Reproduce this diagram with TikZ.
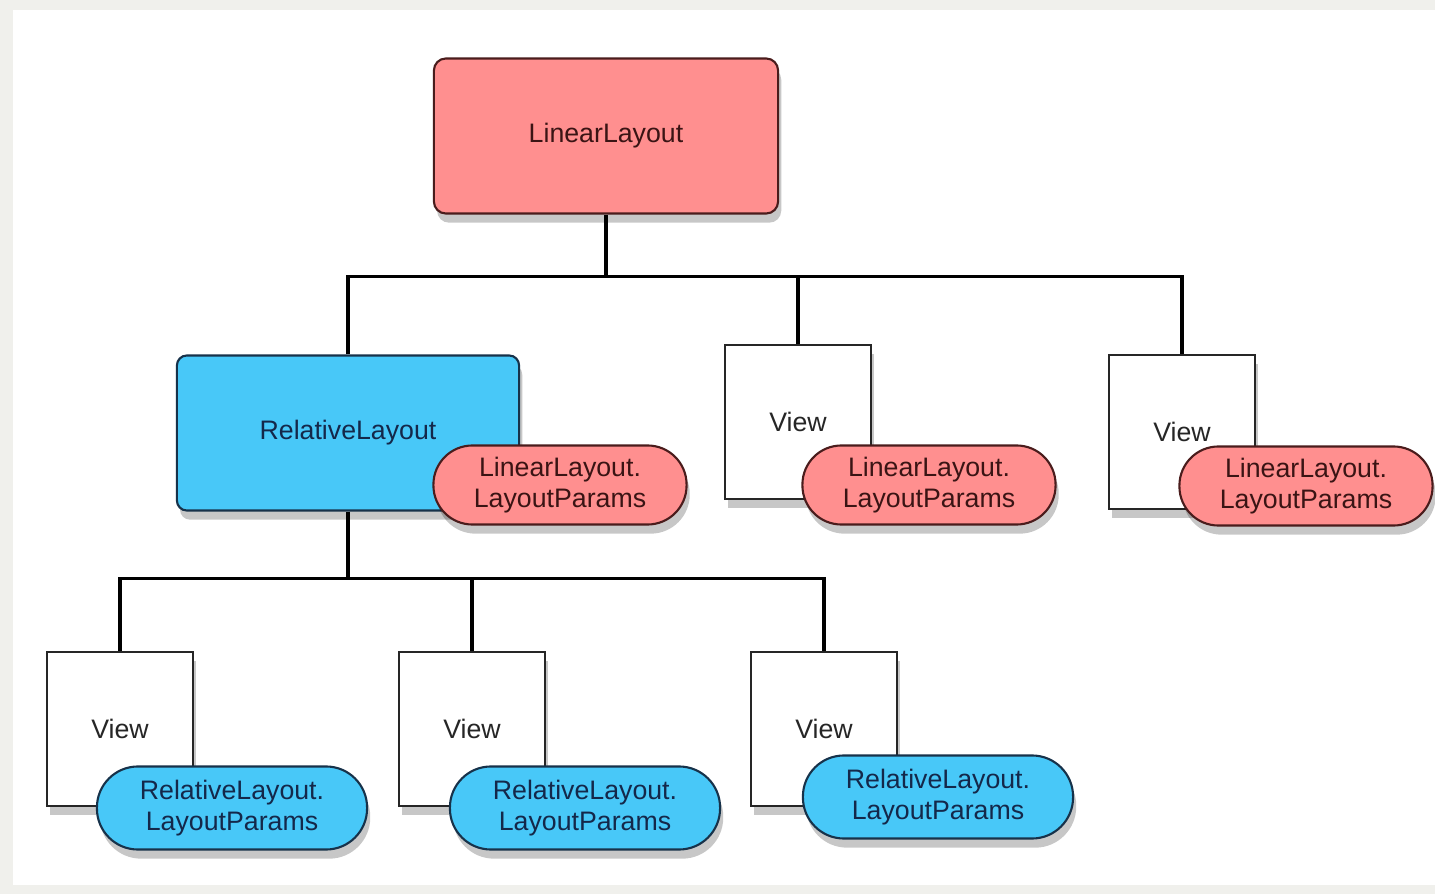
\documentclass[tikz,border=0pt]{standalone}
\usepackage{fontspec}
\setmainfont{Liberation Sans}
\usetikzlibrary{shadows}

\definecolor{pinkfill}{HTML}{FF8F8F}
\definecolor{pinkline}{HTML}{4A1C1C}
\definecolor{pinktext}{HTML}{3A1414}
\definecolor{bluefill}{HTML}{48C8F8}
\definecolor{blueline}{HTML}{17324A}
\definecolor{bluetext}{HTML}{14284A}
\definecolor{margin}{HTML}{F0F0EC}

\tikzset{
  boxshadow/.style={drop shadow={shadow xshift=0.9pt, shadow yshift=-2.6pt, opacity=0.22, fill=black}},
  pinkbox/.style={draw=pinkline, line width=0.6pt, fill=pinkfill, text=pinktext, rounded corners=0.12cm,
    minimum width=3.44cm, minimum height=1.55cm, boxshadow},
  bluebox/.style={draw=blueline, line width=0.6pt, fill=bluefill, text=bluetext, rounded corners=0.1cm,
    minimum width=3.42cm, minimum height=1.55cm, boxshadow},
  viewbox/.style={draw=black!85, line width=0.6pt, fill=white, text=black!85,
    minimum width=1.46cm, minimum height=1.54cm, boxshadow},
  pinkpill/.style={draw=pinkline, line width=0.6pt, fill=pinkfill, text=pinktext, rounded corners=0.39cm,
    minimum width=2.53cm, minimum height=0.79cm, boxshadow},
  bluepill/.style={draw=blueline, line width=0.6pt, fill=bluefill, text=bluetext, rounded corners=0.41cm,
    minimum width=2.70cm, minimum height=0.83cm, boxshadow},
  wire/.style={line width=0.9pt, black}
}

\begin{document}
\begin{tikzpicture}[x=0.01cm, y=-0.01cm, every node/.style={font=\fontsize{7.6}{8.6}\selectfont, align=center, inner sep=0pt}]

\useasboundingbox (0, 0) rectangle (1435, 894);
\fill[margin] (0, 0) rectangle (1435, 894);
\fill[white] (13, 10) rectangle (1435, 885);

% top level
\node[pinkbox] (ll) at (606, 136) {LinearLayout}; % root

% second level
\node[bluebox] (rl) at (348, 433) {RelativeLayout}; % child 1
\node[viewbox] (vm) at (798, 422) {View}; % child 2
\node[viewbox] (vr) at (1182, 432) {View}; % child 3
\node[pinkpill] (pl) at (560, 485) {LinearLayout.\\LayoutParams}; % params of child 1
\node[pinkpill] (pm) at (929, 485) {LinearLayout.\\LayoutParams}; % params of child 2
\node[pinkpill] (pr) at (1306, 486) {LinearLayout.\\LayoutParams}; % params of child 3

% third level
\node[viewbox] (va) at (120, 729) {View}; % grandchild 1
\node[viewbox] (vb) at (472, 729) {View}; % grandchild 2
\node[viewbox] (vc) at (824, 729) {View}; % grandchild 3
\node[bluepill] (qa) at (232, 808) {RelativeLayout.\\LayoutParams}; % params of grandchild 1
\node[bluepill] (qb) at (585, 808) {RelativeLayout.\\LayoutParams}; % params of grandchild 2
\node[bluepill] (qc) at (938, 797) {RelativeLayout.\\LayoutParams}; % params of grandchild 3

% connectors
\draw[wire] (ll.south) -- ++(0, 62) coordinate (j1);
\draw[wire] (rl.north) |- (j1) -| (vr.north);
\draw[wire] (vm.north) -- (vm.north |- j1);
\draw[wire] (rl.south) -- ++(0, 67) coordinate (j2);
\draw[wire] (va.north) |- (j2) -| (vc.north);
\draw[wire] (vb.north) -- (vb.north |- j2);

\end{tikzpicture}
\end{document}
